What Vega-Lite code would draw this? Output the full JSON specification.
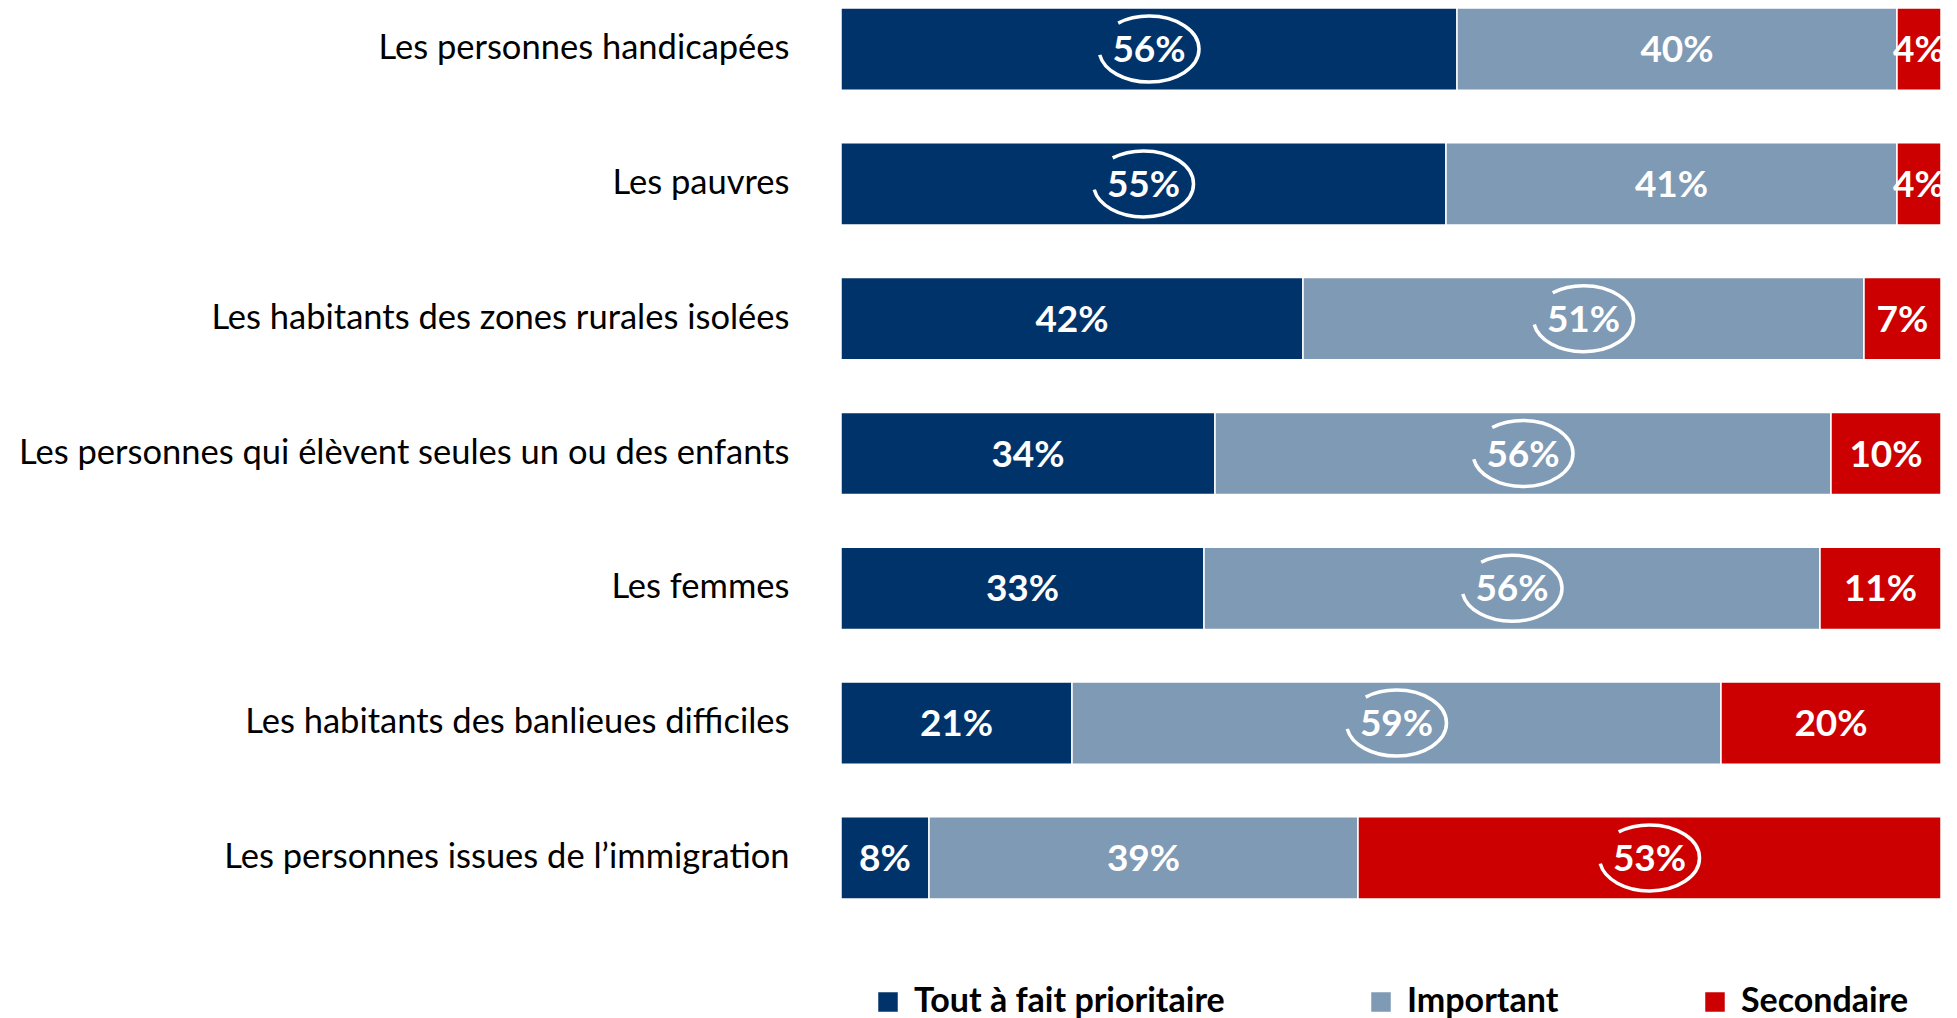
{
  "$schema": "https://vega.github.io/schema/vega-lite/v6.json",
  "width": 1100,
  "height": 891,
  "autosize": {"type": "none"},
  "padding": {"left": 841, "top": 8, "right": 16, "bottom": 119},
  "background": "white",
  "config": {"view": {"stroke": null}, "font": "Lato"},
  "data": {
    "values": [
      {"cat": "Les personnes handicapées", "seg": "Tout à fait prioritaire", "ord": 1, "value": 0.56, "hl": true},
      {"cat": "Les personnes handicapées", "seg": "Important", "ord": 2, "value": 0.40, "hl": false},
      {"cat": "Les personnes handicapées", "seg": "Secondaire", "ord": 3, "value": 0.04, "hl": false},
      {"cat": "Les pauvres", "seg": "Tout à fait prioritaire", "ord": 1, "value": 0.55, "hl": true},
      {"cat": "Les pauvres", "seg": "Important", "ord": 2, "value": 0.41, "hl": false},
      {"cat": "Les pauvres", "seg": "Secondaire", "ord": 3, "value": 0.04, "hl": false},
      {"cat": "Les habitants des zones rurales isolées", "seg": "Tout à fait prioritaire", "ord": 1, "value": 0.42, "hl": false},
      {"cat": "Les habitants des zones rurales isolées", "seg": "Important", "ord": 2, "value": 0.51, "hl": true},
      {"cat": "Les habitants des zones rurales isolées", "seg": "Secondaire", "ord": 3, "value": 0.07, "hl": false},
      {"cat": "Les personnes qui élèvent seules un ou des enfants", "seg": "Tout à fait prioritaire", "ord": 1, "value": 0.34, "hl": false},
      {"cat": "Les personnes qui élèvent seules un ou des enfants", "seg": "Important", "ord": 2, "value": 0.56, "hl": true},
      {"cat": "Les personnes qui élèvent seules un ou des enfants", "seg": "Secondaire", "ord": 3, "value": 0.10, "hl": false},
      {"cat": "Les femmes", "seg": "Tout à fait prioritaire", "ord": 1, "value": 0.33, "hl": false},
      {"cat": "Les femmes", "seg": "Important", "ord": 2, "value": 0.56, "hl": true},
      {"cat": "Les femmes", "seg": "Secondaire", "ord": 3, "value": 0.11, "hl": false},
      {"cat": "Les habitants des banlieues difficiles", "seg": "Tout à fait prioritaire", "ord": 1, "value": 0.21, "hl": false},
      {"cat": "Les habitants des banlieues difficiles", "seg": "Important", "ord": 2, "value": 0.59, "hl": true},
      {"cat": "Les habitants des banlieues difficiles", "seg": "Secondaire", "ord": 3, "value": 0.20, "hl": false},
      {"cat": "Les personnes issues de l’immigration", "seg": "Tout à fait prioritaire", "ord": 1, "value": 0.08, "hl": false},
      {"cat": "Les personnes issues de l’immigration", "seg": "Important", "ord": 2, "value": 0.39, "hl": false},
      {"cat": "Les personnes issues de l’immigration", "seg": "Secondaire", "ord": 3, "value": 0.53, "hl": true}
    ]
  },
  "transform": [
    {"stack": "value", "groupby": ["cat"], "sort": [{"field": "ord", "order": "ascending"}], "as": ["x0", "x1"]},
    {"calculate": "(datum.x0 + datum.x1) / 2", "as": "mid"}
  ],
  "encoding": {
    "y": {
      "field": "cat",
      "type": "nominal",
      "sort": null,
      "scale": {"paddingInner": 0.39, "paddingOuter": 0},
      "axis": {
        "title": null,
        "domain": false,
        "ticks": false,
        "labelFontSize": 34.5,
        "labelColor": "#000000",
        "labelPadding": 52,
        "labelLimit": 900,
        "labelFont": "Lato"
      }
    }
  },
  "layer": [
    {
      "mark": {"type": "bar", "stroke": "white", "strokeWidth": 1.5},
      "encoding": {
        "x": {"field": "x0", "type": "quantitative", "scale": {"domain": [0, 1], "nice": false}, "axis": null},
        "x2": {"field": "x1"},
        "color": {
          "field": "seg",
          "type": "nominal",
          "scale": {
            "domain": ["Tout à fait prioritaire", "Important", "Secondaire"],
            "range": ["#00336a", "#7f9ab4", "#cc0000"]
          },
          "legend": {
            "orient": "none",
            "legendX": 30,
            "legendY": 977,
            "direction": "horizontal",
            "title": null,
            "symbolType": "square",
            "symbolSize": 380,
            "symbolStrokeWidth": 0,
            "symbolOpacity": 1,
            "labelFontSize": 34,
            "labelFontWeight": "bold",
            "labelFont": "Lato",
            "labelOffset": 9,
            "columnPadding": 139,
            "labelLimit": 600,
            "encode": {
              "labels": {
                "update": {
                  "fill": {"signal": "datum.label === 'Important' ? '#5b7b9c' : datum.label === 'Secondaire' ? '#cc0000' : '#00336a'"}
                }
              }
            }
          }
        }
      }
    },
    {
      "mark": {"type": "text", "color": "white", "fontWeight": "bold", "fontSize": 37, "font": "Lato", "baseline": "middle", "align": "center", "dy": 2},
      "encoding": {
        "x": {"field": "mid", "type": "quantitative"},
        "text": {"field": "value", "type": "quantitative", "format": ".0%"}
      }
    },
    {
      "transform": [{"filter": "datum.hl"}],
      "mark": {
        "type": "point",
        "shape": "M -0.616 -0.52 C -0.44 -0.611 -0.223 -0.66 0 -0.66 C 0.552 -0.66 1 -0.365 1 0 C 1 0.365 0.552 0.66 0 0.66 C -0.485 0.66 -0.901 0.43 -0.985 0.115",
        "filled": false,
        "color": "white",
        "strokeWidth": 3.5,
        "size": 10000,
        "opacity": 1
      },
      "encoding": {
        "x": {"field": "mid", "type": "quantitative"}
      }
    }
  ]
}
